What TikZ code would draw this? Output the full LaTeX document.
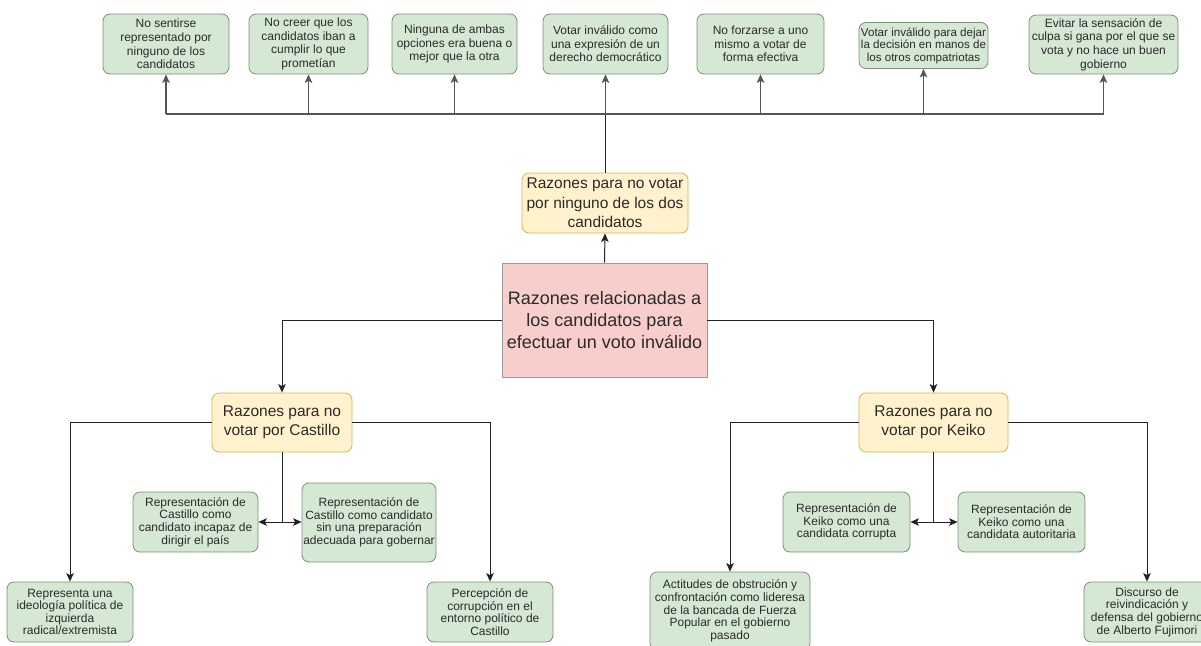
\documentclass[tikz,border=0pt]{standalone}
\usepackage{fontspec}
\setmainfont{Liberation Sans}
\usetikzlibrary{arrows.meta}
\definecolor{gfill}{HTML}{D5E8D4}
\definecolor{gline}{HTML}{7E8F7B}
\definecolor{yfill}{HTML}{FFF2CC}
\definecolor{yline}{HTML}{D6B656}
\definecolor{rfill}{HTML}{F8CECC}
\definecolor{rline}{HTML}{9A9A9A}
\definecolor{txt}{HTML}{2A2A2A}
\definecolor{lc}{HTML}{222222}
\definecolor{bc}{HTML}{555555}
\begin{document}
\begin{tikzpicture}[x=1pt,y=-1pt,
  gbox/.style={draw=gline, fill=gfill, rounded corners=7pt, align=center, inner sep=0pt,
    font=\fontsize{12}{13.6}\selectfont, text=txt, line width=0.8pt},
  gboxb/.style={gbox, font=\fontsize{12}{12.6}\selectfont},
  ybox/.style={draw=yline, fill=yfill, rounded corners=7pt, align=center, inner sep=0pt,
    font=\fontsize{15.5}{19.5}\selectfont, text=txt, line width=0.8pt},
  rbox/.style={draw=rline, fill=rfill, align=center, inner sep=0pt,
    font=\fontsize{18}{22}\selectfont, text=txt, line width=0.8pt},
  ln/.style={draw=lc, line width=1pt},
  bl/.style={draw=bc, line width=1.2pt},
  tip/.tip={Stealth[length=8.5pt,width=7.5pt,inset=2pt]},
  arr/.style={ln, -tip},
  barr/.style={bl, -tip},
]
\useasboundingbox[fill=white] (0,0) rectangle (1201,645);

% top row
\node[gbox, minimum width=126pt, minimum height=60pt] (t1) at (166,44) {No sentirse\\representado por\\ninguno de los\\candidatos};
\node[gbox, minimum width=119pt, minimum height=60pt] (t2) at (308.5,44) {No creer que los\\candidatos iban a\\cumplir lo que\\prometían};
\node[gbox, minimum width=125pt, minimum height=60pt] (t3) at (454.5,44) {Ninguna de ambas\\opciones era buena o\\mejor que la otra};
\node[gbox, minimum width=125pt, minimum height=60pt] (t4) at (605.5,44) {Votar inválido como\\una expresión de un\\derecho democrático};
\node[gbox, minimum width=127pt, minimum height=60pt] (t5) at (760.5,44) {No forzarse a uno\\mismo a votar de\\forma efectiva};
\node[gbox, minimum width=129pt, minimum height=46pt, font=\fontsize{11.6}{12.5}\selectfont] (t6) at (923.5,45.5) {Votar inválido para dejar\\la decisión en manos de\\los otros compatriotas};
\node[gbox, minimum width=149pt, minimum height=59pt] (t7) at (1103.5,44.5) {Evitar la sensación de\\culpa si gana por el que se\\vota y no hace un buen\\gobierno};

% middle
\node[ybox, minimum width=166pt, minimum height=60pt] (yn) at (605,203) {Razones para no votar\\por ninguno de los dos\\candidatos};
\node[rbox, minimum width=205pt, minimum height=114pt] (red) at (604.5,320) {Razones relacionadas a\\los candidatos para\\efectuar un voto inválido};
\node[ybox, minimum width=140pt, minimum height=59pt] (yc) at (282,422.5) {Razones para no\\votar por Castillo};
\node[ybox, minimum width=149pt, minimum height=59pt] (yk) at (933.5,422.5) {Razones para no\\votar por Keiko};

% Castillo children
\node[gboxb, minimum width=126pt, minimum height=60pt] (c1) at (70,612) {Representa una\\ideología política de\\izquierda\\radical/extremista};
\node[gboxb, minimum width=125pt, minimum height=60pt] (c2) at (195.5,522) {Representación de\\Castillo como\\candidato incapaz de\\dirigir el país};
\node[gboxb, minimum width=134pt, minimum height=79pt] (c3) at (369,522.5) {Representación de\\Castillo como candidato\\sin una preparación\\adecuada para gobernar};
\node[gboxb, minimum width=126pt, minimum height=60pt] (c4) at (490,612) {Percepción de\\corrupción en el\\entorno político de\\Castillo};

% Keiko children
\node[gboxb, minimum width=160pt, minimum height=78pt] (k1) at (730,611) {Actitudes de obstrución y\\confrontación como lideresa\\de la bancada de Fuerza\\Popular en el gobierno\\pasado};
\node[gboxb, minimum width=127pt, minimum height=60pt] (k2) at (846.5,522) {Representación de\\Keiko como una\\candidata corrupta};
\node[gboxb, minimum width=127pt, minimum height=60pt] (k3) at (1021.5,522) {Representación de\\Keiko como una\\candidata autoritaria};
\node[gboxb, minimum width=126pt, minimum height=60pt] (k4) at (1147,612) {Discurso de\\reivindicación y\\defensa del gobierno\\de Alberto Fujimori};

% top bus
\coordinate (bus) at (yn.north |- 0,114);
\draw[ln] (yn.north) -- (bus);
\draw[bl] (bus -| t1.south) -- (bus -| t7.south);
\foreach \t in {t1,t2,t3,t4,t5,t6,t7}{
  \draw[barr] (bus -| \t.south) -- (\t.south);
}

% center
\draw[arr] (red.north) -- (yn.south);
\draw[arr] (red.west) -| (yc.north);
\draw[arr] (red.east) -| (yk.north);

% Castillo
\draw[arr] (yc.west) -| (c1.north);
\draw[arr] (yc.east) -| (c4.north);
\coordinate (cj) at (yc.south |- c2.east);
\draw[ln] (yc.south) -- (cj);
\draw[arr] (cj) -- (c2.east);
\draw[arr] (cj) -- (c3.west |- cj);

% Keiko
\draw[arr] (yk.west) -| (k1.north);
\draw[arr] (yk.east) -| (k4.north);
\coordinate (kj) at (yk.south |- k2.east);
\draw[ln] (yk.south) -- (kj);
\draw[arr] (kj) -- (k2.east);
\draw[arr] (kj) -- (k3.west);
\end{tikzpicture}
\end{document}
